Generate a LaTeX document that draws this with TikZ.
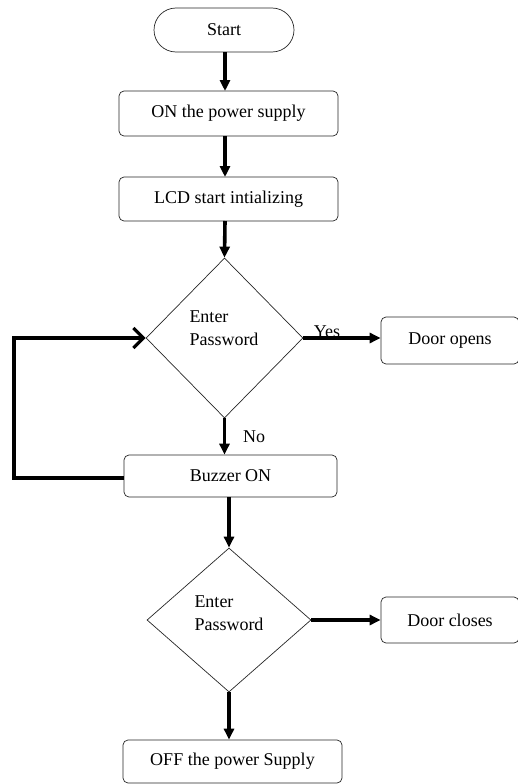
\documentclass[tikz,border=0pt]{standalone}
\usepackage{fontspec}
\setmainfont{Liberation Serif}
\usetikzlibrary{shapes.geometric,arrows.meta}
\begin{document}
\begin{tikzpicture}[x=1pt,y=-1pt,
  box/.style={draw=black!85,line width=0.7pt,rounded corners=5pt,inner sep=0pt,font=\fontsize{18}{21}\selectfont},
  dia/.style={draw=black!85,line width=0.7pt,diamond,inner sep=0pt},
  lbl/.style={font=\fontsize{18}{23}\selectfont,inner sep=0pt},
  flow/.style={line width=3.6pt,-{Triangle[length=11pt,width=10pt]}},
  loop/.style={line width=3.6pt,-{Straight Barb[length=10pt,width=20pt,line width=3.2pt]}}
]
\useasboundingbox (0,0) rectangle (518,784);
\node[box,minimum width=140pt,minimum height=44pt,rounded corners=22pt] (start) at (224,30) {Start};
\node[box,minimum width=219pt,minimum height=45pt] (on) at (228.5,113.5) {ON the power supply};
\node[box,minimum width=219pt,minimum height=44pt] (lcd) at (228.5,199) {LCD start intializing};
\node[dia,minimum width=157pt,minimum height=160pt] (d1) at (224.5,338) {};
\node[lbl,align=left] (d1t) at (224,328) {Enter\\Password};
\node[box,minimum width=138pt,minimum height=47pt] (open) at (450,340.5) {Door opens};
\node[box,minimum width=213pt,minimum height=42pt] (buzz) at (230.5,476) {Buzzer ON};
\node[dia,minimum width=164pt,minimum height=144pt] (d2) at (229,620) {};
\node[lbl,align=left] (d2t) at (229,613) {Enter\\Password};
\node[box,minimum width=138pt,minimum height=46pt] (close) at (450,620) {Door closes};
\node[box,minimum width=219pt,minimum height=43pt] (off) at (232.5,761.5) {OFF the power Supply};
\coordinate (lp) at (14,0);

\draw[flow] (start.south -| 225,0) -- (225,91);
\draw[flow] (225,136) -- (225,177);
\draw[flow] (225,221) -- (d1.north);
\draw[flow] (d1.east) -- (open.west |- d1.east);
\node[lbl,anchor=base] (yes) at (327,337) {Yes};
\draw[flow] (d1.south) -- (d1.south |- buzz.north);
\node[lbl] (no) at (254,437) {No};
\draw[loop] (buzz.west |- 0,478) -- (lp |- 0,478) -- (lp |- d1.west) -- (d1.west);
\draw[flow] (d2.north |- buzz.south) -- (d2.north);
\draw[flow] (d2.east) -- (close.west |- d2.east);
\draw[flow] (d2.south) -- (d2.south |- off.north);
\end{tikzpicture}
\end{document}
